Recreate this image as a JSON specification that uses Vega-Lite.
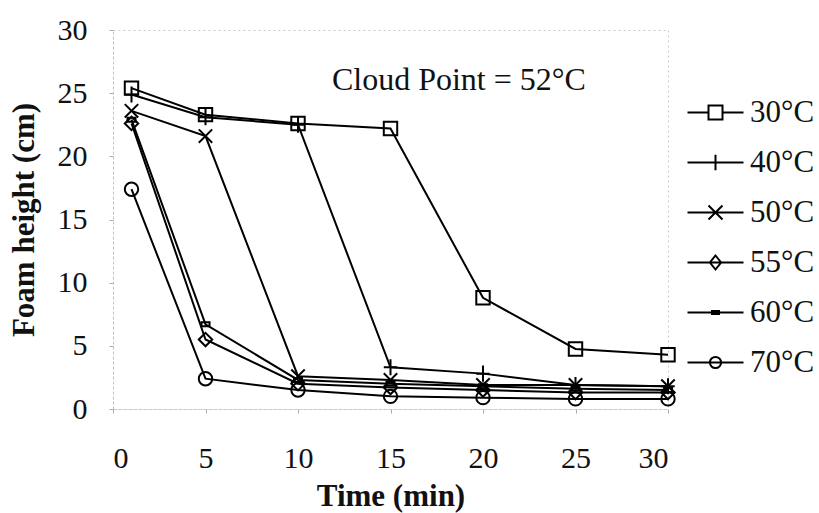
{
  "$schema": "https://vega.github.io/schema/vega-lite/v6.json",
  "width": 555,
  "height": 379,
  "autosize": "none",
  "padding": {"left": 113, "top": 30, "right": 151, "bottom": 104},
  "background": "white",
  "config": {
    "font": "Liberation Serif",
    "view": {"stroke": "#c8c8c8", "strokeDash": [2, 3], "strokeWidth": 1},
    "axis": {
      "labelFont": "Liberation Serif",
      "titleFont": "Liberation Serif",
      "labelFontSize": 30,
      "titleFontSize": 31,
      "titleFontWeight": "bold",
      "labelColor": "#111",
      "titleColor": "#111",
      "domainColor": "#c0c0c0",
      "domainDash": [2, 3],
      "tickColor": "#aaa",
      "tickSize": 4,
      "grid": false
    }
  },
  "layer": [
    {
      "data": {"values": [
        {"t": 1, "h": 25.4, "s": "30°C"}, {"t": 5, "h": 23.3, "s": "30°C"}, {"t": 10, "h": 22.6, "s": "30°C"}, {"t": 15, "h": 22.2, "s": "30°C"}, {"t": 20, "h": 8.8, "s": "30°C"}, {"t": 25, "h": 4.75, "s": "30°C"}, {"t": 30, "h": 4.3, "s": "30°C"},
        {"t": 1, "h": 24.9, "s": "40°C"}, {"t": 5, "h": 23.1, "s": "40°C"}, {"t": 10, "h": 22.5, "s": "40°C"}, {"t": 15, "h": 3.3, "s": "40°C"}, {"t": 20, "h": 2.8, "s": "40°C"}, {"t": 25, "h": 1.9, "s": "40°C"}, {"t": 30, "h": 1.8, "s": "40°C"},
        {"t": 1, "h": 23.6, "s": "50°C"}, {"t": 5, "h": 21.6, "s": "50°C"}, {"t": 10, "h": 2.6, "s": "50°C"}, {"t": 15, "h": 2.3, "s": "50°C"}, {"t": 20, "h": 1.9, "s": "50°C"}, {"t": 25, "h": 1.9, "s": "50°C"}, {"t": 30, "h": 1.8, "s": "50°C"},
        {"t": 1, "h": 22.6, "s": "55°C"}, {"t": 5, "h": 5.5, "s": "55°C"}, {"t": 10, "h": 2.0, "s": "55°C"}, {"t": 15, "h": 1.7, "s": "55°C"}, {"t": 20, "h": 1.5, "s": "55°C"}, {"t": 25, "h": 1.3, "s": "55°C"}, {"t": 30, "h": 1.3, "s": "55°C"},
        {"t": 1, "h": 22.9, "s": "60°C"}, {"t": 5, "h": 6.7, "s": "60°C"}, {"t": 10, "h": 2.3, "s": "60°C"}, {"t": 15, "h": 2.0, "s": "60°C"}, {"t": 20, "h": 1.8, "s": "60°C"}, {"t": 25, "h": 1.6, "s": "60°C"}, {"t": 30, "h": 1.5, "s": "60°C"},
        {"t": 1, "h": 17.4, "s": "70°C"}, {"t": 5, "h": 2.4, "s": "70°C"}, {"t": 10, "h": 1.5, "s": "70°C"}, {"t": 15, "h": 1.0, "s": "70°C"}, {"t": 20, "h": 0.9, "s": "70°C"}, {"t": 25, "h": 0.8, "s": "70°C"}, {"t": 30, "h": 0.8, "s": "70°C"}
      ]},
      "encoding": {
        "x": {"field": "t", "type": "quantitative", "scale": {"domain": [0, 30], "nice": false},
              "axis": {"values": [0, 5, 10, 15, 20, 25, 30], "title": "Time (min)", "labelPadding": 30, "titlePadding": 8}},
        "y": {"field": "h", "type": "quantitative", "scale": {"domain": [0, 30], "nice": false},
              "axis": {"values": [0, 5, 10, 15, 20, 25, 30], "title": "Foam height (cm)", "labelPadding": 22, "titlePadding": 17}}
      },
      "layer": [
        {
          "mark": {"type": "line", "color": "black", "strokeWidth": 2},
          "encoding": {"detail": {"field": "s", "type": "nominal"}}
        },
        {
          "mark": {"type": "point", "filled": false, "stroke": "black", "strokeWidth": 2, "size": 180, "opacity": 1},
          "encoding": {
            "shape": {
              "field": "s", "type": "nominal",
              "scale": {
                "domain": ["30°C", "40°C", "50°C", "55°C", "60°C", "70°C"],
                "range": ["square", "M-1,0H1M0,-1.2V1.2", "M-1,-1L1,1M-1,1L1,-1", "diamond", "M-0.6,-0.3H0.6V0.3H-0.6Z", "circle"]
              },
              "legend": null
            }
          }
        },
        {
          "mark": {"type": "point", "filled": false, "stroke": "black", "strokeWidth": 2, "size": 0, "opacity": 1},
          "encoding": {
            "shape": {
              "field": "s", "type": "nominal",
              "scale": {
                "domain": ["30°C", "40°C", "50°C", "55°C", "60°C", "70°C"],
                "range": [
                  "M-4,0H-1M1,0H4M-1,-1H1V1H-1Z",
                  "M-4,0H4M0,-1.1V1.1",
                  "M-4,0H4M-1,-1L1,1M-1,1L1,-1",
                  "M-4,0H4M0,-1L0.8,0L0,1L-0.8,0Z",
                  "M-4,0H4M-0.5,-0.2H0.5V0.2H-0.5Z",
                  "M-4,0H4M-0.8,0A0.8,0.8,0,1,0,0.8,0A0.8,0.8,0,1,0,-0.8,0"
                ]
              },
              "legend": {
                "title": null,
                "orient": "none",
                "legendX": 587,
                "legendY": 67,
                "padding": 0,
                "labelFont": "Liberation Serif",
                "labelFontSize": 31,
                "labelColor": "#111",
                "labelOffset": 19,
                "symbolSize": 196,
                "symbolStrokeWidth": 2,
                "symbolStrokeColor": "black",
                "symbolFillColor": "transparent",
                "symbolOpacity": 1,
                "rowPadding": 18
              }
            }
          }
        }
      ],
      "resolve": {"scale": {"shape": "independent"}, "legend": {"shape": "independent"}}
    },
    {
      "data": {"values": [{"t": 18.7, "h": 25.25, "label": "Cloud Point = 52°C"}]},
      "mark": {"type": "text", "font": "Liberation Serif", "fontSize": 32, "color": "#111", "align": "center", "baseline": "alphabetic"},
      "encoding": {
        "x": {"field": "t", "type": "quantitative"},
        "y": {"field": "h", "type": "quantitative"},
        "text": {"field": "label"}
      }
    }
  ]
}
